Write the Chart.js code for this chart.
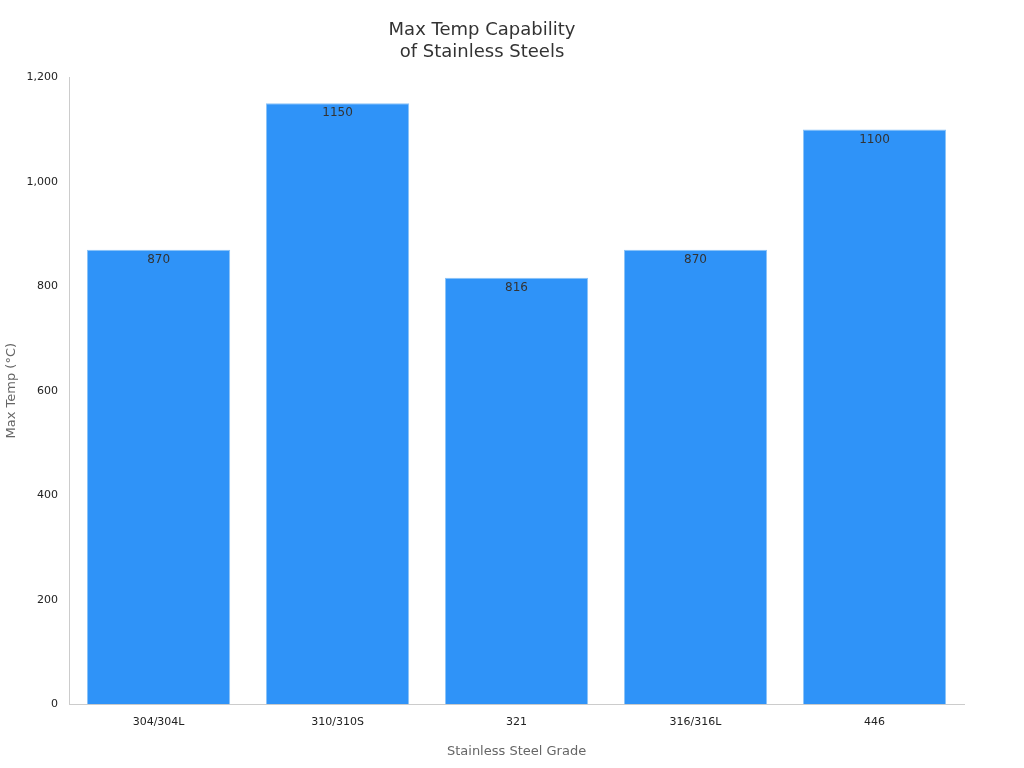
<!DOCTYPE html>
<html><head><meta charset="utf-8">
<script src="https://cdn.jsdelivr.net/npm/chart.js@4"></script>
<style>html,body{margin:0;padding:0;background:#fff}#wrap{width:1024px;height:768px}</style>
</head><body><div id="wrap"><canvas id="c" width="1024" height="768"></canvas></div>
<script>
const categories = ["304/304L","310/310S","321","316/316L","446"];
const maxTemp = [870,1150,816,870,1100];
const yTicks = [0,200,400,600,800,1000,1200];

Chart.defaults.font.family = "'DejaVu Sans', sans-serif";
const labelPlugin = {
  id:'labels',
  afterDatasetsDraw(chart){
    const ctx = chart.ctx;
    const meta = chart.getDatasetMeta(0);
    ctx.save();
    ctx.font = "12px 'DejaVu Sans'";
    ctx.fillStyle = '#333';
    ctx.textAlign = 'center';
    ctx.textBaseline = 'middle';
    meta.data.forEach((bar,i)=>{
      ctx.fillText(String(maxTemp[i]), bar.x, bar.y + 10);
    });
    ctx.restore();
  }
};
new Chart(document.getElementById('c'),{
  type:'bar',
  data:{labels:categories,datasets:[{data:maxTemp,backgroundColor:'#2f93f8',borderColor:'#8cc3f7',borderWidth:1,barPercentage:0.8,categoryPercentage:1.0}]},
  options:{
    responsive:false,animation:false,
    layout:{padding:{left:0,right:60,top:10,bottom:5}},
    plugins:{legend:{display:false},tooltip:{enabled:false},
      title:{display:true,text:['Max Temp Capability','of Stainless Steels'],color:'#333',font:{size:18,weight:'normal'},padding:{top:10,bottom:14}}},
    scales:{
      x:{grid:{display:false,drawTicks:true},border:{color:'#ccc'},ticks:{color:'#222',font:{size:11}},
         title:{display:true,text:'Stainless Steel Grade',color:'#666',font:{size:13},padding:{top:12}}},
      y:{min:0,max:1200,afterBuildTicks(s){s.ticks=yTicks.map(v=>({value:v}));},
         grid:{display:false,drawTicks:true},border:{color:'#ccc'},ticks:{color:'#222',font:{size:11}},
         title:{display:true,text:'Max Temp (°C)',color:'#666',font:{size:13}}}
    }
  },
  plugins:[labelPlugin]
});
</script></body></html>
